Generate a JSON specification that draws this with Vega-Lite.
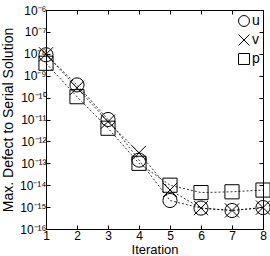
{
  "$schema": "https://vega.github.io/schema/vega-lite/v6.json",
  "autosize": {"type": "none"},
  "padding": {"left": 46, "top": 10, "right": 7, "bottom": 27},
  "width": 217,
  "height": 219,
  "background": "white",
  "config": {
    "view": {"stroke": "black", "strokeWidth": 1},
    "axis": {
      "grid": false,
      "domainColor": "black",
      "tickColor": "black",
      "labelColor": "black",
      "titleColor": "black",
      "labelFont": "Liberation Sans",
      "titleFont": "Liberation Sans",
      "labelFontSize": 12,
      "titleFontSize": 14,
      "titleFontWeight": "normal",
      "tickSize": -4,
      "domainWidth": 1,
      "tickWidth": 1
    },
    "legend": {
      "labelFont": "Liberation Sans",
      "labelFontSize": 14,
      "labelColor": "black"
    }
  },
  "data": {
    "values": [
      {"iteration": 1, "var": "u", "value": 9e-9},
      {"iteration": 2, "var": "u", "value": 3.8e-10},
      {"iteration": 3, "var": "u", "value": 1e-11},
      {"iteration": 4, "var": "u", "value": 1.4e-13},
      {"iteration": 5, "var": "u", "value": 2e-15},
      {"iteration": 6, "var": "u", "value": 9e-16},
      {"iteration": 7, "var": "u", "value": 7e-16},
      {"iteration": 8, "var": "u", "value": 9.5e-16},
      {"iteration": 1, "var": "v", "value": 9.5e-9},
      {"iteration": 2, "var": "v", "value": 2.8e-10},
      {"iteration": 3, "var": "v", "value": 8e-12},
      {"iteration": 4, "var": "v", "value": 3e-13},
      {"iteration": 5, "var": "v", "value": 6e-15},
      {"iteration": 6, "var": "v", "value": 9e-16},
      {"iteration": 7, "var": "v", "value": 7e-16},
      {"iteration": 8, "var": "v", "value": 9.5e-16},
      {"iteration": 1, "var": "p", "value": 3.7e-9},
      {"iteration": 2, "var": "p", "value": 1.1e-10},
      {"iteration": 3, "var": "p", "value": 4e-12},
      {"iteration": 4, "var": "p", "value": 1e-13},
      {"iteration": 5, "var": "p", "value": 1e-14},
      {"iteration": 6, "var": "p", "value": 4.6e-15},
      {"iteration": 7, "var": "p", "value": 5e-15},
      {"iteration": 8, "var": "p", "value": 6e-15}
    ]
  },
  "layer": [
    {
      "encoding": {
        "x": {
          "field": "iteration",
          "type": "quantitative",
          "scale": {"domain": [1, 8], "nice": false, "zero": false},
          "axis": {"title": "Iteration", "values": [1, 2, 3, 4, 5, 6, 7, 8], "labelPadding": 5, "titleY": 14, "titleBaseline": "top", "titleFontSize": 13, "labelFlush": false}
        },
        "y": {
          "field": "value",
          "type": "quantitative",
          "scale": {"type": "log", "domain": [1e-16, 1e-6], "nice": false},
          "axis": {
            "title": "Max. Defect to Serial Solution",
            "values": [1e-16, 1e-15, 1e-14, 1e-13, 1e-12, 1e-11, 1e-10, 1e-9, 1e-8, 1e-7, 1e-6],
            "labelExpr": "'10⁻' + (abs(round(log(datum.value)/LN10)) >= 10 ? '¹' : '') + ['⁰','¹','²','³','⁴','⁵','⁶','⁷','⁸','⁹'][abs(round(log(datum.value)/LN10)) % 10]",
            "labelPadding": 4,
            "titlePadding": 4,
            "labelFlush": false
          }
        }
      },
      "layer": [
        {
          "mark": {"type": "line", "color": "black", "strokeDash": [2, 2], "strokeWidth": 0.8},
          "encoding": {"detail": {"field": "var"}}
        },
        {
          "mark": {"type": "point", "filled": false, "stroke": "black", "strokeWidth": 1, "opacity": 1},
          "encoding": {
            "shape": {
              "field": "var",
              "type": "nominal",
              "scale": {"domain": ["u", "v", "p"], "range": ["circle", "M-1,-1L1,1M-1,1L1,-1", "square"]},
              "legend": {"title": null, "orient": "none", "legendX": 191, "legendY": 4, "symbolSize": 120, "symbolStrokeColor": "black", "symbolFillColor": "transparent", "symbolStrokeWidth": 1, "labelOffset": 1, "rowPadding": 3, "padding": 0}
            },
            "size": {"value": 200}
          }
        }
      ]
    },
    {
      "mark": {"type": "point", "opacity": 0},
      "encoding": {
        "x": {"field": "iteration", "type": "quantitative", "scale": {"domain": [1, 8], "nice": false, "zero": false}, "axis": {"orient": "top", "values": [1, 2, 3, 4, 5, 6, 7, 8], "labels": false, "title": null, "domain": false}},
        "y": {"field": "value", "type": "quantitative", "scale": {"type": "log", "domain": [1e-16, 1e-6], "nice": false}, "axis": {"orient": "right", "values": [1e-16, 1e-15, 1e-14, 1e-13, 1e-12, 1e-11, 1e-10, 1e-9, 1e-8, 1e-7, 1e-6], "labels": false, "title": null, "domain": false}}
      }
    }
  ],
  "resolve": {"axis": {"x": "independent", "y": "independent"}}
}
